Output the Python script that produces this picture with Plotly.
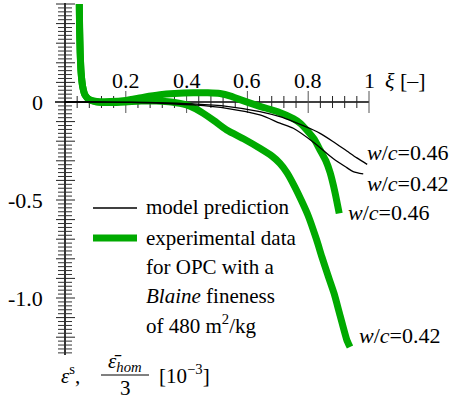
import numpy as np
import plotly.graph_objects as go

# ---------------- data ----------------
# hydration degree xi [-]
xi_exp_046 = [0.047, 0.048, 0.050, 0.053, 0.058, 0.066, 0.080, 0.104, 0.15, 0.20, 0.26, 0.3125,
              0.36, 0.422, 0.47, 0.51, 0.545, 0.576, 0.641, 0.70, 0.751, 0.775, 0.795, 0.82,
              0.839, 0.858, 0.872, 0.888, 0.902]
eps_exp_046 = [0.50, 0.38, 0.25, 0.15, 0.08, 0.035, 0.012, 0.003, 0.002, 0.008, 0.025, 0.037,
               0.043, 0.047, 0.047, 0.043, 0.030, 0.012, -0.022, -0.050, -0.085, -0.11, -0.143,
               -0.19, -0.245, -0.30, -0.36, -0.46, -0.568]

xi_exp_042 = [0.047, 0.048, 0.050, 0.053, 0.058, 0.066, 0.080, 0.104, 0.15, 0.20, 0.25, 0.30,
              0.35, 0.40, 0.43, 0.455, 0.49, 0.532, 0.59, 0.641, 0.68, 0.707, 0.73, 0.755,
              0.78, 0.80, 0.827, 0.845, 0.865, 0.885, 0.905, 0.927, 0.9375]
eps_exp_042 = [0.50, 0.38, 0.25, 0.15, 0.08, 0.035, 0.012, 0.0, -0.003, 0.0, 0.005, 0.005,
               0.0, -0.015, -0.035, -0.058, -0.095, -0.143, -0.19, -0.236, -0.275, -0.313,
               -0.36, -0.43, -0.51, -0.58, -0.70, -0.79, -0.885, -0.976, -1.09, -1.214, -1.25]

xi_mod_046 = [0.0, 0.1, 0.2, 0.3, 0.422, 0.532, 0.641, 0.707, 0.751, 0.817, 0.839, 0.88, 0.927, 0.96, 0.994]
eps_mod_046 = [0.0, 0.0, -0.001, -0.003, -0.010, -0.022, -0.049, -0.075, -0.100, -0.143, -0.160,
               -0.200, -0.250, -0.285, -0.318]

xi_mod_042 = [0.0, 0.1, 0.2, 0.3, 0.422, 0.532, 0.641, 0.707, 0.751, 0.817, 0.883, 0.927, 0.948, 0.981]
eps_mod_042 = [0.0, 0.0, -0.002, -0.005, -0.015, -0.032, -0.066, -0.108, -0.134, -0.205, -0.290,
               -0.335, -0.355, -0.367]

x_tick_labels = ["0.2", "0.4", "0.6", "0.8", "1"]
x_tick_vals = [0.2, 0.4, 0.6, 0.8, 1.0]
y_tick_labels = ["0", "-0.5", "-1.0"]
y_tick_vals = [0.0, -0.5, -1.0]

# ---------------- layout helpers ----------------
W, H = 464, 403
X0, SX = 65.0, 304.0     # pixel of xi=0, pixels per unit
Y0, SY = 102.0, 196.0    # pixel of eps=0, pixels per unit


def X(px):
    return (px - X0) / SX


def Y(py):
    return (Y0 - py) / SY


GREEN = "#00aa00"
FONT = "Liberation Serif"
FS = 21
FS_TICK = 22

fig = go.Figure()

# experimental curves
for xs, ys in [(xi_exp_046, eps_exp_046), (xi_exp_042, eps_exp_042)]:
    fig.add_trace(go.Scatter(x=xs, y=ys, mode="lines",
                             line=dict(color=GREEN, width=7, shape="spline", smoothing=0.6),
                             hoverinfo="skip", showlegend=False))

shapes = []


def seg(x0, y0, x1, y1, color="black", width=1.0, layer="above"):
    shapes.append(dict(type="line", xref="x", yref="y", x0=x0, y0=y0, x1=x1, y1=y1,
                       line=dict(color=color, width=width), layer=layer))


# axes lines
seg(X(55), 0, 1.0, 0, width=1.6, layer="below")
seg(0, Y(3), 0, Y(355), width=1.6, layer="below")

# x ticks every 0.04, longer at multiples of 0.2
for k in range(1, 26):
    v = k * 0.04
    major = k % 5 == 0
    h = (11 if major else 6) / SY
    seg(v, -h, v, h, color="#555" if major else "#222", width=1.0, layer="below")

# y ticks every 0.02, longer at multiples of 0.1
for k in range(-64, 26):
    if k == 0:
        continue
    v = k * 0.02
    if k % 5 == 0:
        seg(X(56), v, X(75), v, color="#222", width=1.0, layer="below")
    else:
        seg(X(58), v, X(72), v, color="#333", width=1.0, layer="below")

# model curves (on top)
for xs, ys in [(xi_mod_046, eps_mod_046), (xi_mod_042, eps_mod_042)]:
    fig.add_trace(go.Scatter(x=xs, y=ys, mode="lines",
                             line=dict(color="black", width=1.3, shape="spline", smoothing=0.8),
                             hoverinfo="skip", showlegend=False))

ann = []


def text(x, y, s, xanchor="left", size=FS):
    ann.append(dict(x=x, y=y, xref="x", yref="y", text=s, showarrow=False,
                    xanchor=xanchor, yanchor="middle",
                    font=dict(family=FONT, size=size, color="black")))


for v, s in zip(x_tick_vals, x_tick_labels):
    text(v, Y(80), s, xanchor="center", size=FS_TICK)
for v, s in zip(y_tick_vals, y_tick_labels):
    text(X(45), v, s, xanchor="right", size=FS_TICK)

text(X(383), Y(80), "<i>ξ</i> [–]", size=FS_TICK)

# curve labels
text(X(365), Y(152), "<i>w</i>/<i>c</i>=0.46", size=FS_TICK)
text(X(365), Y(183), "<i>w</i>/<i>c</i>=0.42", size=FS_TICK)
text(X(346), Y(212), "<i>w</i>/<i>c</i>=0.46", size=FS_TICK)
text(X(357), Y(335), "<i>w</i>/<i>c</i>=0.42", size=FS_TICK)

# legend
seg(X(93), Y(208), X(137), Y(208), color="black", width=1.3)
seg(X(93), Y(238), X(137), Y(238), color=GREEN, width=7)
text(X(144), Y(207), "model prediction")
text(X(144), Y(238), "experimental data")
text(X(144), Y(267), "for OPC with a")
text(X(144), Y(296), "<i>Blaine</i> fineness")
text(X(144), Y(324), "of 480 m<sup>2</sup>/kg")

# y-axis quantity label
text(X(59), Y(374), "<i>ε</i><sup>s</sup>,")
text(X(125), Y(362), "<i>ε̄</i><sub><i>hom</i></sub>", xanchor="center")
seg(X(101), Y(375), X(149), Y(375), width=1)
text(X(125), Y(388), "3", xanchor="center")
text(X(157), Y(374), "[10<sup>−3</sup>]")

fig.update_layout(
    width=W, height=H, margin=dict(l=0, r=0, t=0, b=0, pad=0),
    paper_bgcolor="white", plot_bgcolor="white",
    xaxis=dict(range=[X(0), X(W)], visible=False, fixedrange=True),
    yaxis=dict(range=[Y(H), Y(0)], visible=False, fixedrange=True),
    annotations=ann, shapes=shapes, showlegend=False,
)

fig.write_html("out.html", config={"displayModeBar": False},
               post_script="document.body.style.margin='0';")
